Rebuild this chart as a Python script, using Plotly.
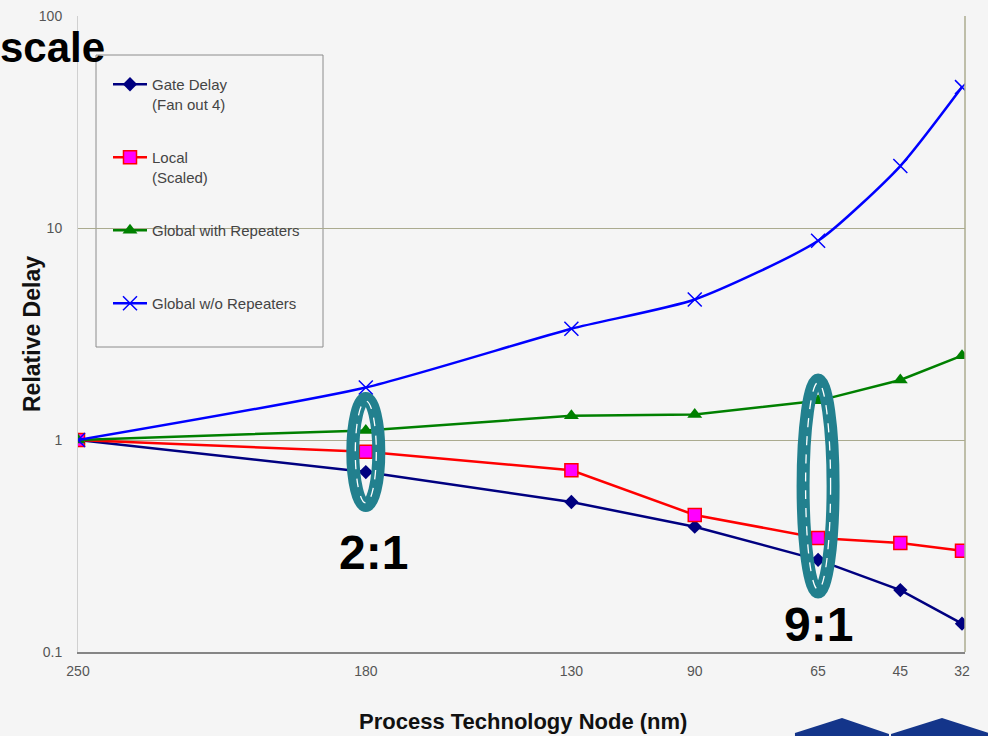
import plotly.graph_objects as go

# ---- data -------------------------------------------------------------
node_labels = ["250", "180", "130", "90", "65", "45", "32"]
# roadmap node sizes (nm) that set the spacing along the horizontal axis
node_pos = [250, 180, 130, 100, 70, 50, 35]

gate_delay = [1.0, 0.706, 0.51, 0.39, 0.272, 0.196, 0.136]
local_scaled = [1.0, 0.88, 0.72, 0.443, 0.345, 0.327, 0.30]
global_rep = [1.0, 1.11, 1.30, 1.32, 1.53, 1.92, 2.50]
global_norep = [1.0, 1.77, 3.35, 4.6, 8.7, 19.6, 46.2]

y_ticks = [0.1, 1, 10, 100]
y_ticktext = ["0.1", "1", "10", "100"]

# ---- page geometry ----------------------------------------------------
W, H = 988, 736
L, R, T, B = 78, 23, 16, 84
PW, PH = W - L - R, H - T - B


def px(x):
    return (x - L) / PW


def py(y):
    return (H - B - y) / PH


FONT = "Liberation Sans, Arial, sans-serif"
BG = "#f5f5f5"
GRID = "#abab8f"
TEAL = "#22808e"

fig = go.Figure()

fig.add_trace(go.Scatter(
    x=node_pos, y=gate_delay, name="Gate Delay<br>(Fan out 4)",
    mode="lines+markers", legendgroup="a",
    line=dict(color="#000080", width=2.5),
    marker=dict(symbol="diamond", size=11, color="#000080"),
))
fig.add_trace(go.Scatter(
    x=node_pos, y=local_scaled, name="Local<br>(Scaled)",
    mode="lines+markers", legendgroup="b",
    line=dict(color="#ff0000", width=2.5),
    marker=dict(symbol="square", size=13, color="#ff00ff",
                line=dict(color="#ff0000", width=1.5)),
))
fig.add_trace(go.Scatter(
    x=node_pos, y=global_rep, name="Global with Repeaters<br> ",
    mode="lines+markers", legendgroup="c",
    line=dict(color="#008000", width=2.5),
    marker=dict(symbol="triangle-up", size=13, color="#008000"),
))
fig.add_trace(go.Scatter(
    x=node_pos, y=global_norep, name="Global w/o Repeaters",
    mode="lines+markers", legendgroup="d",
    line=dict(color="#0000ff", width=2.5, shape="spline", smoothing=0.6),
    marker=dict(symbol="x-thin", size=14,
                line=dict(color="#0000ff", width=1.5)),
))

shapes = []
# legend frame
shapes.append(dict(type="rect", xref="paper", yref="paper",
                   x0=px(96), x1=px(323), y0=py(347), y1=py(55),
                   line=dict(color="#8c8c8c", width=1), layer="below"))
# right border of the plot area
shapes.append(dict(type="line", xref="paper", yref="paper",
                   x0=1, x1=1, y0=0, y1=1,
                   line=dict(color=GRID, width=1.5)))


def ring(xnode, ycen_px, w, h):
    band = 13
    yc = py(ycen_px)
    out = [dict(type="circle", xref="x", yref="paper",
                xsizemode="pixel", ysizemode="pixel",
                xanchor=xnode, yanchor=yc,
                x0=-(w - band) / 2, x1=(w - band) / 2,
                y0=-(h - band) / 2, y1=(h - band) / 2,
                line=dict(color=TEAL, width=band), layer="above"),
           dict(type="circle", xref="x", yref="paper",
                xsizemode="pixel", ysizemode="pixel",
                xanchor=xnode, yanchor=yc,
                x0=-(w - 18) / 2, x1=(w - 18) / 2,
                y0=-(h - 18) / 2, y1=(h - 18) / 2,
                line=dict(color="white", width=1.3, dash="dash"),
                layer="above")]
    return out


shapes += ring(180, 452, 39, 120)
shapes += ring(70, 486, 43, 225)

# navy slide-logo tiles along the bottom edge
for pts in ([(795, 737), (795, 733), (842, 718), (889, 734), (889, 737)],
            [(891, 737), (891, 734), (942, 718), (989, 733), (989, 737)]):
    path = "M " + " L ".join(f"{px(a):.4f},{py(b):.4f}" for a, b in pts) + " Z"
    shapes.append(dict(type="path", xref="paper", yref="paper", path=path,
                       fillcolor="#14358a", line=dict(width=0)))

annotations = [
    dict(text="<b>2:1</b>", xref="x", yref="paper", x=180, y=py(552),
         xanchor="center", yanchor="middle", xshift=8, showarrow=False,
         font=dict(family=FONT, size=48, color="black")),
    dict(text="<b>9:1</b>", xref="x", yref="paper", x=70, y=py(624),
         xanchor="center", yanchor="middle", showarrow=False,
         font=dict(family=FONT, size=48, color="black")),
    dict(text="<b>scale</b>", xref="paper", yref="paper", x=px(107), y=py(48),
         xanchor="right", yanchor="middle", showarrow=False,
         font=dict(family=FONT, size=42, color="black")),
    dict(text="<b>Relative Delay</b>", xref="paper", yref="paper",
         x=px(32), y=py(334), xanchor="center", yanchor="middle",
         textangle=-90, showarrow=False,
         font=dict(family=FONT, size=23, color="#111")),
    dict(text="<b>Process Technology Node (nm)</b>", xref="paper",
         yref="paper", x=px(523), y=py(721), xanchor="center",
         yanchor="middle", showarrow=False,
         font=dict(family=FONT, size=22, color="#111")),
]

fig.update_layout(
    width=W, height=H,
    margin=dict(l=L, r=R, t=T, b=B, autoexpand=False),
    paper_bgcolor=BG, plot_bgcolor=BG,
    font=dict(family=FONT, size=14, color="#555"),
    showlegend=True,
    legend=dict(x=px(108), y=py(68), xanchor="left", yanchor="top",
                bgcolor="rgba(0,0,0,0)", borderwidth=0,
                font=dict(family=FONT, size=15, color="#444"),
                tracegroupgap=31, valign="top", itemwidth=34),
    shapes=shapes,
    annotations=annotations,
    xaxis=dict(range=[250, 34.27], tickvals=node_pos, ticktext=node_labels,
               showgrid=False, zeroline=False, ticks="", automargin=False,
               showline=True, linecolor="#858585", linewidth=1.5,
               ticklabelstandoff=5,
               tickfont=dict(family=FONT, size=14, color="#555")),
    yaxis=dict(type="log", range=[-1, 2], tickvals=y_ticks,
               ticktext=y_ticktext, showgrid=True, gridcolor=GRID,
               gridwidth=1.2, zeroline=False, ticks="", automargin=False,
               showline=True, linecolor="#d0d0d0", linewidth=1,
               ticklabelstandoff=12,
               tickfont=dict(family=FONT, size=14, color="#555")),
)

fig.write_html("out.html")
